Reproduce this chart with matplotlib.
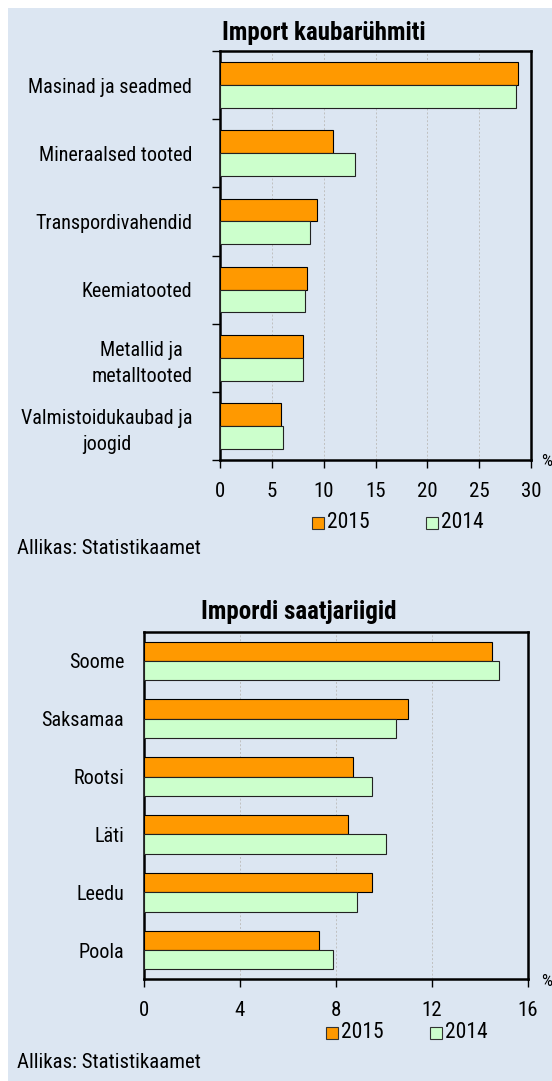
import matplotlib
matplotlib.use("Agg")
import matplotlib.pyplot as plt
import numpy as np
from matplotlib.patches import Rectangle
from matplotlib import font_manager

# andmed
groups = ['Masinad ja seadmed', 'Mineraalsed tooted', 'Transpordivahendid',
          'Keemiatooted', 'Metallid ja\nmetalltooted', 'Valmistoidukaubad ja\njoogid']
groups_2015 = [28.7, 10.9, 9.4, 8.4, 8.0, 5.9]
groups_2014 = [28.6, 13.0, 8.7, 8.2, 8.0, 6.1]

countries = ['Soome', 'Saksamaa', 'Rootsi', 'Läti', 'Leedu', 'Poola']
countries_2015 = [14.5, 11.0, 8.7, 8.5, 9.5, 7.3]
countries_2014 = [14.8, 10.5, 9.5, 10.1, 8.9, 7.9]

source = 'Allikas: Statistikaamet'
BG = '#dce6f2'
C2015 = '#ff9900'
C2014 = '#ccffcc'

installed = {f.name for f in font_manager.fontManager.ttflist}
family = next((f for f in ['Roboto Condensed', 'Liberation Sans Narrow', 'Roboto']
               if f in installed), 'DejaVu Sans')
plt.rcParams['font.family'] = [family, 'DejaVu Sans']

W, H = 552, 1081
fig = plt.figure(figsize=(W / 100, H / 100), dpi=100)
fig.patches.append(Rectangle((8 / W, 0), 1, 1 - 8 / H, transform=fig.transFigure,
                             facecolor=BG, edgecolor='none', zorder=-10))


def px_axes(left, top, right, bottom):
    return fig.add_axes([left / W, 1 - bottom / H, (right - left) / W, (bottom - top) / H])


def draw_panel(ax, labels, v2015, v2014, xmax, xstep, left_ticks, bottom_px):
    n = len(labels)
    y = np.arange(n)
    h = 0.335
    ax.set_facecolor(BG)
    ax.barh(y - h / 2, v2015, height=h, color=C2015, edgecolor='black', linewidth=0.8, zorder=3)
    ax.barh(y + h / 2, v2014, height=h, color=C2014, edgecolor='#222222', linewidth=0.8, zorder=3)
    ax.set_xlim(0, xmax)
    ax.set_ylim(n - 0.5, -0.5)
    ax.set_xticks(np.arange(0, xmax + 0.1, xstep))
    ax.tick_params(axis='x', direction='out', length=6, width=1, pad=10, labelsize=15)
    ax.grid(axis='x', color='#c0c0c0', linestyle=(0, (2, 2)), linewidth=0.7, zorder=0)
    if left_ticks:
        ax.set_yticks(np.arange(-0.5, n, 1.0))
        ax.tick_params(axis='y', which='major', direction='out', length=6, width=1,
                       labelleft=False)
    else:
        ax.set_yticks([])
    # kategooriate nimed keskel
    ax.set_yticks(y, minor=True)
    ax.set_yticklabels(labels, minor=True, fontsize=14.5, multialignment='center',
                       linespacing=1.45)
    ax.tick_params(axis='y', which='minor', length=0, pad=20 if left_ticks else 14)
    for s in ax.spines.values():
        s.set_linewidth(1.8)
        s.set_color('black')
    fig.text(541 / W, 1 - (bottom_px + 2) / H, '%', fontsize=12.5, va='center', ha='left')


ax1 = px_axes(220, 51, 531, 460)
draw_panel(ax1, groups, groups_2015, groups_2014, 30, 5, True, 460)
fig.text(324 / W, 1 - 33 / H, 'Import kaubarühmiti', fontsize=18, fontweight='bold',
         ha='center', va='center')

ax2 = px_axes(143.5, 632, 528, 979)
draw_panel(ax2, countries, countries_2015, countries_2014, 16, 4, False, 979)
fig.text(299 / W, 1 - 612 / H, 'Impordi saatjariigid', fontsize=18, fontweight='bold',
         ha='center', va='center')


def legend_row(x_sq1, x_sq2, ycen):
    for x, c, lab in [(x_sq1, C2015, '2015'), (x_sq2, C2014, '2014')]:
        fig.patches.append(Rectangle((x / W, 1 - (ycen + 6) / H), 12 / W, 12 / H,
                                     transform=fig.transFigure, facecolor=c,
                                     edgecolor='#333333', linewidth=0.8))
        fig.text((x + 15) / W, 1 - ycen / H, lab, fontsize=15.5, va='center', ha='left')


legend_row(312, 426, 523)
legend_row(326, 430, 1033)

fig.text(17 / W, 1 - 548 / H, source, fontsize=15, va='center', ha='left')
fig.text(17 / W, 1 - 1063 / H, source, fontsize=15, va='center', ha='left')

fig.savefig('out.png', dpi=100, facecolor='white')
